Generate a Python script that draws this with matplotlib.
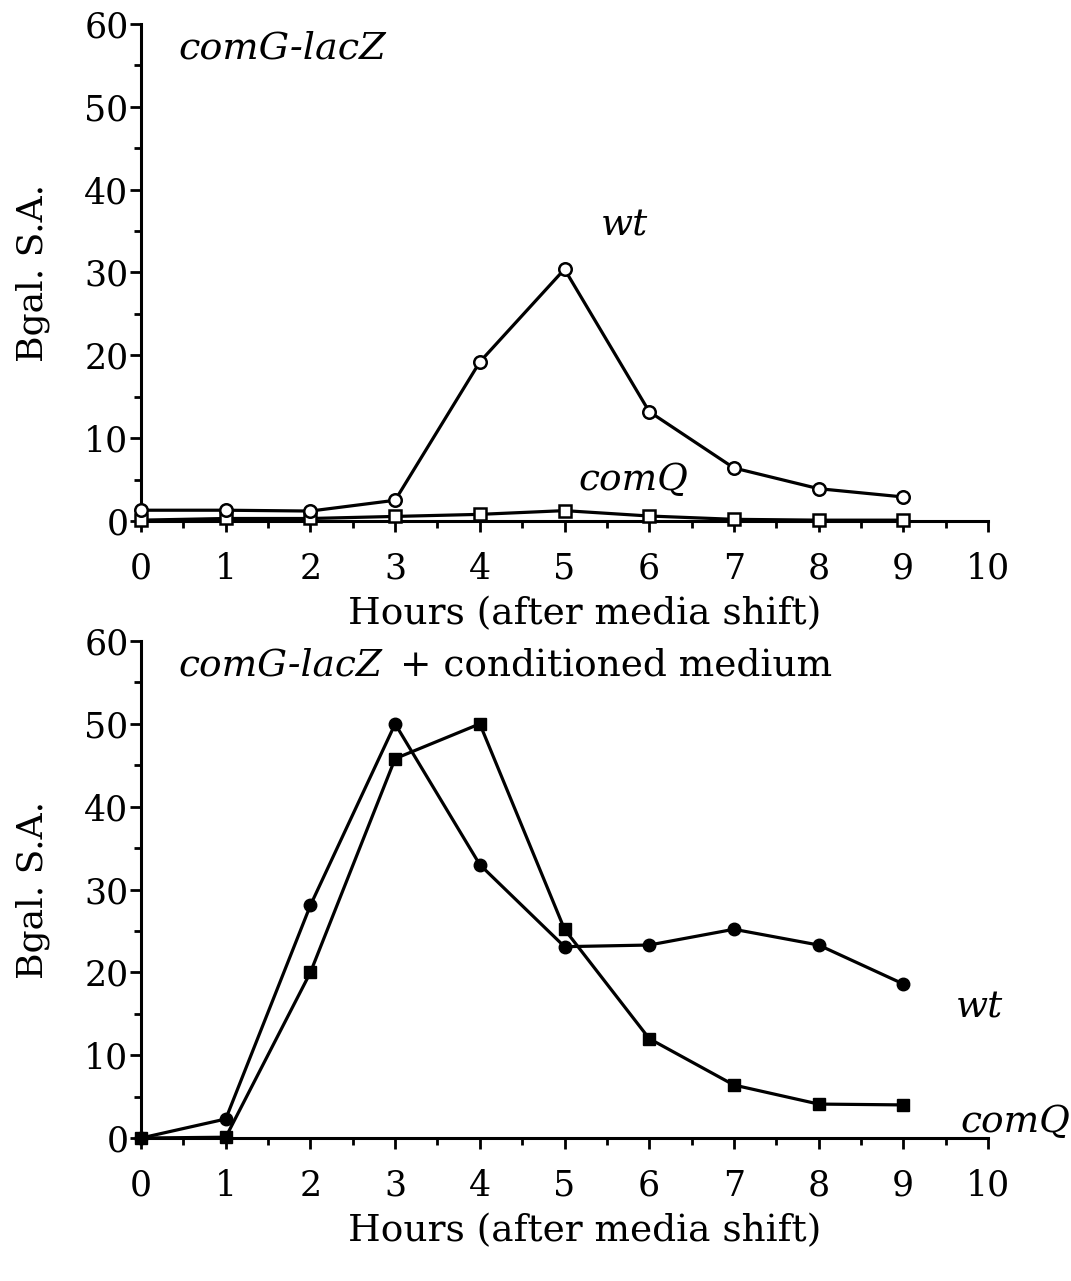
import matplotlib
matplotlib.use("Agg")
import matplotlib.pyplot as plt
from matplotlib.ticker import MultipleLocator

plt.rcParams['font.family'] = ['DejaVu Serif']

hours = [0, 1, 2, 3, 4, 5, 6, 7, 8, 9]
top_wt = [1.3, 1.3, 1.2, 2.5, 19.2, 30.4, 13.2, 6.4, 3.9, 2.9]
top_comQ = [0.1, 0.3, 0.3, 0.55, 0.8, 1.25, 0.6, 0.2, 0.1, 0.1]
bot_wt = [0.0, 2.3, 28.1, 50.0, 33.0, 23.1, 23.3, 25.2, 23.3, 18.6]
bot_comQ = [0.0, 0.1, 20.0, 45.8, 50.0, 25.2, 12.0, 6.4, 4.1, 4.0]
xticks = list(range(0, 11))
yticks = [0, 10, 20, 30, 40, 50, 60]

fig = plt.figure(figsize=(10.71, 12.81), dpi=100)
ax1 = fig.add_axes([0.1317, 0.5933, 0.7908, 0.388])
ax2 = fig.add_axes([0.1317, 0.1116, 0.7908, 0.388])

TFS = 25
LFS = 27

def style(ax):
    ax.set_xlim(0, 10)
    ax.set_ylim(0, 60)
    for s in ['top', 'right']:
        ax.spines[s].set_visible(False)
    for s in ['left', 'bottom']:
        ax.spines[s].set_linewidth(2.2)
    ax.set_xticks(xticks)
    ax.set_yticks(yticks)
    ax.xaxis.set_minor_locator(MultipleLocator(0.5))
    ax.yaxis.set_minor_locator(MultipleLocator(5))
    ax.tick_params(which='major', length=8, width=2, direction='out', labelsize=TFS)
    ax.tick_params(axis='y', which='major', pad=1)
    ax.tick_params(axis='x', which='major', pad=14)
    ax.tick_params(which='minor', length=5, width=2, direction='out')
    ax.set_xlabel('Hours (after media shift)', fontsize=LFS)
    ax.set_ylabel('Bgal. S.A.', fontsize=LFS - 1)
    ax.xaxis.set_label_coords(0.524, -0.152)
    ax.yaxis.set_label_coords(-0.108, 0.5)
    ax.patch.set_alpha(0)

style(ax1)
style(ax2)

lw = 2.3
ax1.plot(hours, top_comQ, color='black', lw=lw, marker='s', ms=8,
         mfc='white', mec='black', mew=1.8, clip_on=False, zorder=3)
ax1.plot(hours, top_wt, color='black', lw=lw, marker='o', ms=9,
         mfc='white', mec='black', mew=1.8, clip_on=False, zorder=4)

ax2.plot(hours, bot_wt, color='black', lw=lw, marker='o', ms=9,
         mfc='black', mec='black', clip_on=False, zorder=3)
ax2.plot(hours, bot_comQ, color='black', lw=lw, marker='s', ms=8.5,
         mfc='black', mec='black', clip_on=False, zorder=4)

ax1.text(0.44, 57, 'comG-lacZ', fontsize=LFS + 0.5, style='italic', va='center', ha='left')
ax1.text(5.71, 35.7, 'wt', fontsize=LFS, style='italic', va='center', ha='center')
ax1.text(5.81, 5.0, 'comQ', fontsize=LFS, style='italic', va='center', ha='center')

ax2.text(0.44, 57, 'comG-lacZ', fontsize=LFS, style='italic', va='center', ha='left')
ax2.text(3.06, 57, '+ conditioned medium', fontsize=LFS, va='center', ha='left')
ax2.text(9.9, 15.7, 'wt', fontsize=LFS, style='italic', va='center', ha='center',
         clip_on=False)
ax2.text(10.32, 1.9, 'comQ', fontsize=LFS, style='italic', va='center', ha='center',
         clip_on=False)

fig.savefig('out.png', dpi=100)
